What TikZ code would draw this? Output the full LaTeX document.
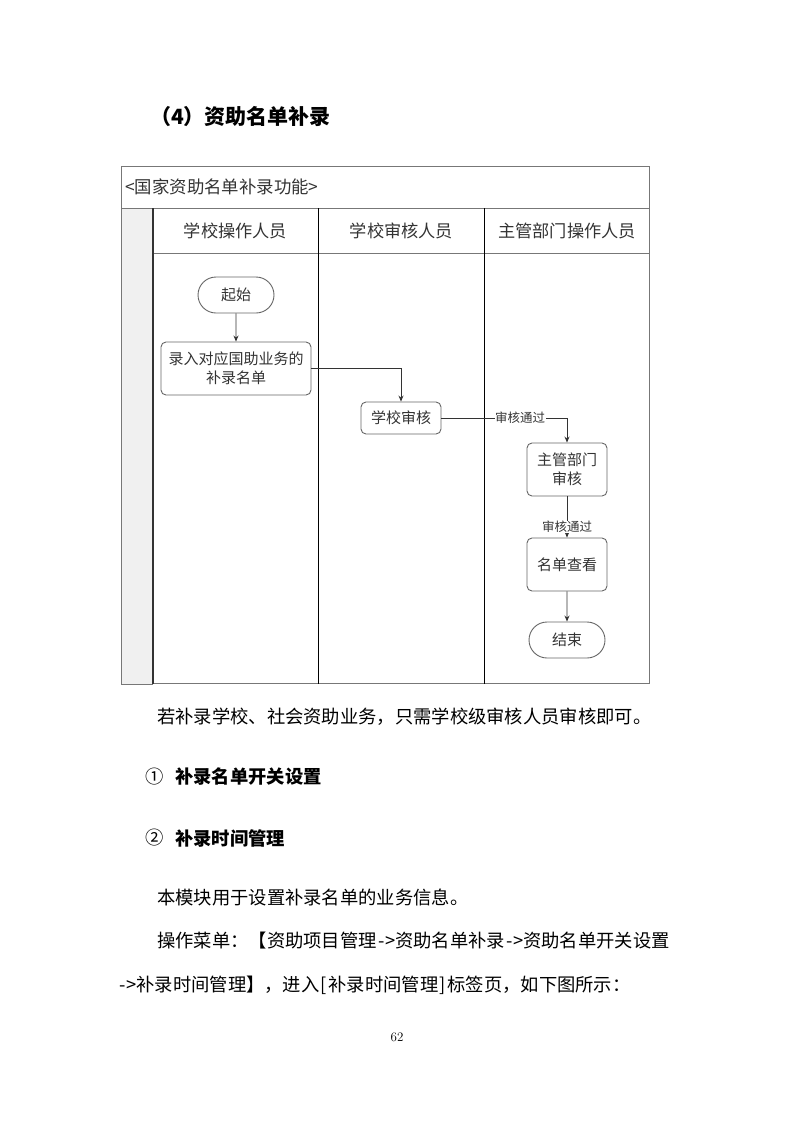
\documentclass[tikz,border=0pt]{standalone}
\usepackage{fontspec}
\newfontfamily\cjk{Noto Sans CJK SC}
\usetikzlibrary{shapes.misc,arrows.meta}
\definecolor{txt}{HTML}{333333}
\definecolor{frame}{HTML}{777777}
\definecolor{boxline}{HTML}{666666}
\definecolor{colfill}{HTML}{F0F0F0}
\newcommand{\hw}[1]{\makebox[0.5em]{#1}}
\begin{document}
\begin{tikzpicture}[x=1pt,y=-1pt,
  dia/.style={font=\cjk\fontsize{15}{19}\selectfont, text=txt},
  proc/.style={dia, draw=boxline, line width=0.9pt, fill=white, rounded corners=5pt, align=center, minimum width=80pt, inner sep=2pt},
  term/.style={dia, draw=boxline, line width=0.9pt, fill=white, rounded rectangle, minimum width=80pt, minimum height=36pt, inner sep=2pt},
  hdr/.style={font=\cjk\fontsize{17.2}{20}\selectfont, text=txt},
  lbl/.style={font=\cjk\fontsize{12.5}{15}\selectfont, text=txt, fill=white, inner sep=0.5pt},
  conn/.style={draw=txt, line width=0.8pt},
  arr/.style={conn, -{Stealth[length=6pt,width=5pt]}},
  body/.style={font=\cjk\fontsize{18.3}{22}\selectfont, anchor=west, inner sep=0pt, text=black},
  bodyb/.style={body, font=\cjk\bfseries\fontsize{18.3}{22}\selectfont}
]
\useasboundingbox (0,0) rectangle (793,1122);
% title
\node[bodyb, font=\cjk\bfseries\fontsize{21}{25}\selectfont] (title) at (150,117) {（4）资助名单补录};
% frame
\draw[frame, line width=0.9pt] (121.5,166) rectangle (649.5,208);
\node[hdr, font=\cjk\fontsize{17.4}{20}\selectfont, anchor=west, inner sep=0pt] (ftitle) at (125,187) {<国家资助名单补录功能>};
\draw[frame, line width=0.9pt, fill=colfill] (121.5,208) rectangle (152,684);
\draw[frame, line width=0.9pt] (152,208) -- (649.5,208) -- (649.5,683.5) -- (152,683.5);
\draw[frame, line width=0.9pt] (152,253.5) -- (649.5,253.5);
\draw[black!80, line width=2pt] (152.5,208) -- (152.5,684);
\draw[black, line width=1.6pt] (318.5,208) -- (318.5,683.5);
\draw[black, line width=1.6pt] (484.5,208) -- (484.5,683.5);
% headers
\node[hdr] (h1) at (235.5,231) {学校操作人员};
\node[hdr] (h2) at (401.5,231) {学校审核人员};
\node[hdr] (h3) at (567,231) {主管部门操作人员};
% nodes
\node[term] (start) at (236,295) {起始};
\node[proc, minimum width=150pt, minimum height=53pt] (entry) at (236,368.5) {录入对应国助业务的\\补录名单};
\node[proc, minimum height=32pt] (school) at (401,418) {学校审核};
\node[proc, minimum height=53pt] (dept) at (567,469.5) {主管部门\\审核};
\node[proc, minimum height=53pt] (view) at (567,564.5) {名单查看};
\node[term] (end) at (567,640) {结束};
% connectors
\draw[arr] (start) -- (entry);
\draw[arr] (entry.east) -| (school.north);
\draw[arr] (school.east) -| (dept.north);
\node[lbl] (l1) at (520,418) {审核通过};
\draw[arr] (dept) -- (view);
\node[lbl] (l2) at (567,527) {审核通过};
\draw[arr] (view) -- (end);
% body text
\node[body] (p1) at (157,717) {若补录学校、社会资助业务，只需学校级审核人员审核即可。};
\node[body] (c1) at (145,777) {①};
\node[bodyb] (s1) at (175,777) {补录名单开关设置};
\node[body] (c2) at (145,838) {②};
\node[bodyb] (s2) at (175,838) {补录时间管理};
\node[body] (p2) at (157,897) {本模块用于设置补录名单的业务信息。};
\node[body] (p3) at (157,941) {操作菜单：【资助项目管理\hw{-}\hw{>}资助名单补录\hw{-}\hw{>}资助名单开关设置};
\node[body] (p4) at (118,985) {\hw{-}\hw{>}补录时间管理】，进入\hw{[}补录时间管理\hw{]}标签页，如下图所示：};
\node[font=\fontsize{13}{15}\selectfont] (pg) at (397,1037) {62};
\end{tikzpicture}
\end{document}
